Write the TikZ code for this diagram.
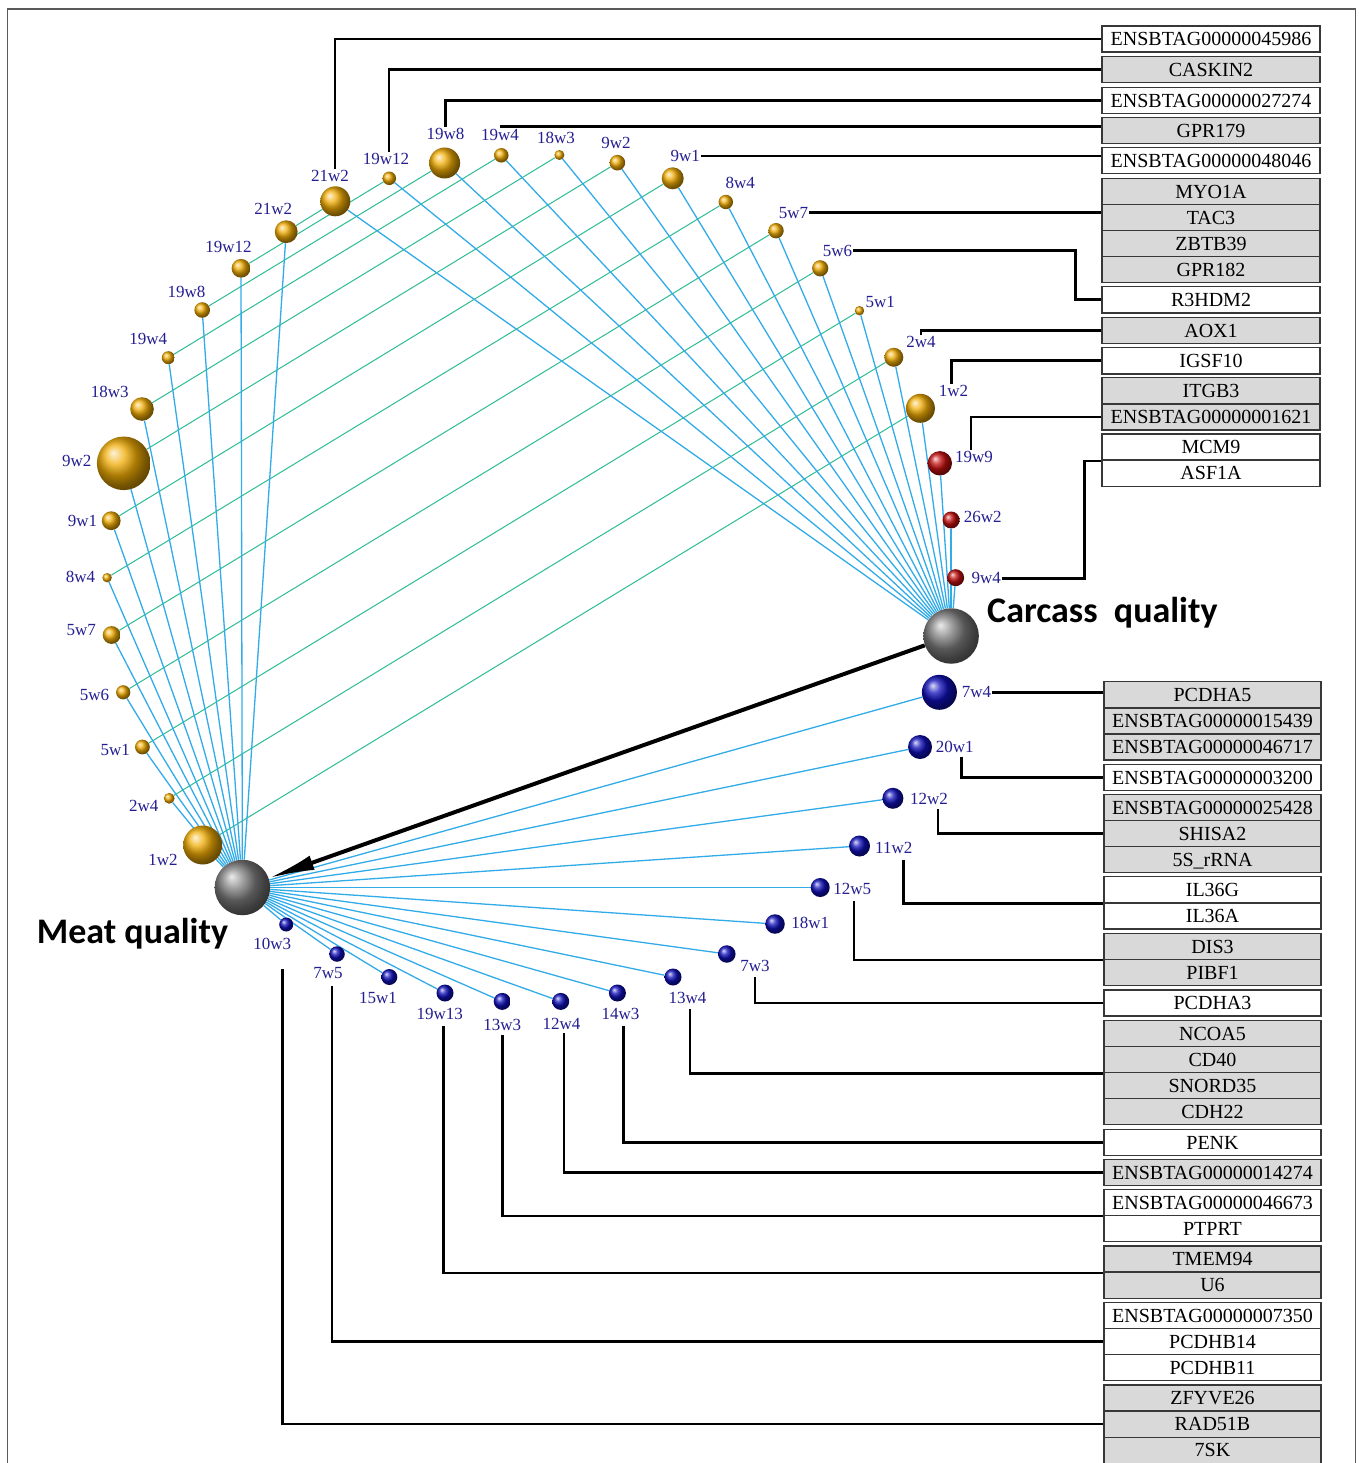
\documentclass[tikz,border=0pt]{standalone}
\usepackage{fontspec}
\setmainfont{Liberation Serif}
\newfontfamily\titlefont{Carlito}
\usetikzlibrary{arrows.meta,calc,backgrounds}
\definecolor{cgold}{RGB}{240,172,5}
\definecolor{cred}{RGB}{195,15,15}
\definecolor{cblue}{RGB}{15,15,185}
\definecolor{cgray}{RGB}{125,125,125}
\definecolor{linb}{RGB}{50,172,232}
\definecolor{ling}{RGB}{45,188,150}
\definecolor{labc}{RGB}{35,30,145}
\definecolor{boxg}{RGB}{217,217,217}
\definecolor{boxd}{RGB}{55,55,55}
\definecolor{framec}{RGB}{90,90,90}
\begin{document}
\begin{tikzpicture}[x=1pt,y=-1pt,
  sph/.style={circle, inner sep=0pt, shading=ball, minimum size=#1},
  sphG/.style={sph=#1, ball color=cgold},
  sphR/.style={sph=#1, ball color=cred},
  sphB/.style={sph=#1, ball color=cblue},
  sphK/.style={sph=#1, ball color=cgray},
  nlab/.style={text=labc, inner sep=1pt, font=\fontsize{17}{17}\selectfont},
  conn/.style={draw=black, line width=2.6pt},
  blueln/.style={draw=linb, line width=1.3pt},
  greenln/.style={draw=ling, line width=1pt},
  gbox/.style={draw=boxd, line width=1.4pt, minimum height=26.1pt, inner sep=0pt,
     text height=13.4pt, text depth=0pt, font=\fontsize{20}{20}\selectfont},
  boxTG/.style={gbox, minimum width=218pt, fill=boxg},
  boxTW/.style={gbox, minimum width=218pt, fill=white},
  boxLG/.style={gbox, minimum width=217pt, fill=boxg},
  boxLW/.style={gbox, minimum width=217pt, fill=white},
  ttl/.style={anchor=base west, inner sep=0pt, font=\titlefont\bfseries\fontsize{36}{36}\selectfont}
]
\useasboundingbox (0,0) rectangle (1358,1463);
\draw[framec, line width=1.5pt] (7.5,1475) -- (7.5,9) -- (1355.5,9) -- (1355.5,1475);

% ---------- main spheres ----------
\node[sphK=55.5] (MQ) at (242.4,887.5) {};
\node[sphK=55.5] (CQ) at (951.1,636) {};

% top arc (carcass)
\node[sphG=30]   (T21w2) at (335.3,201.3) {};
\node[sphG=13.5] (T19w12) at (389.3,178.3) {};
\node[sphG=31]   (T19w8) at (444.6,163) {};
\node[sphG=14.5] (T19w4) at (501.3,155.3) {};
\node[sphG=10]   (T18w3) at (559.4,155) {};
\node[sphG=15.6] (T9w2) at (617.4,162.7) {};
\node[sphG=22]   (T9w1) at (672.7,178.3) {};
\node[sphG=14.4] (T8w4) at (725.8,202) {};
\node[sphG=15.4] (T5w7) at (776,230.7) {};
\node[sphG=16.2] (T5w6) at (820.2,268.3) {};
\node[sphG=9.4]  (T5w1) at (859.5,310.7) {};
\node[sphG=19]   (T2w4) at (893.8,357.3) {};
\node[sphG=29]   (T1w2) at (920.4,408.3) {};
\node[sphR=24.4] (R19w9) at (939.8,463.3) {};
\node[sphR=17]   (R26w2) at (951.1,520) {};
\node[sphR=17]   (R9w4) at (955.6,577.7) {};

% blue arc (meat)
\node[sphB=35]   (B7w4) at (939.4,692.3) {};
\node[sphB=24]   (B20w1) at (920,747) {};
\node[sphB=21]   (B12w2) at (892.9,798.3) {};
\node[sphB=21]   (B11w2) at (859.5,846) {};
\node[sphB=19]   (B12w5) at (820.2,887.5) {};
\node[sphB=19.5] (B18w1) at (775,924) {};
\node[sphB=17.5] (B7w3) at (726.8,954) {};
\node[sphB=17]   (B13w4) at (673,977) {};
\node[sphB=17]   (B14w3) at (617.4,993) {};
\node[sphB=17]   (B12w4) at (560.7,1001.4) {};
\node[sphB=17]   (B13w3) at (502.2,1001.4) {};
\node[sphB=17]   (B19w13) at (445,993) {};
\node[sphB=16]   (B15w1) at (389.3,977) {};
\node[sphB=15.5] (B7w5) at (337,954) {};
\node[sphB=14]   (B10w3) at (286.2,924.5) {};

% left arc (meat)
\node[sphG=39]   (L1w2) at (202.7,845) {};
\node[sphG=10.8] (L2w4) at (169.2,798.3) {};
\node[sphG=14.8] (L5w1) at (142.4,747) {};
\node[sphG=14.2] (L5w6) at (123.2,692.3) {};
\node[sphG=17.8] (L5w7) at (111.6,635) {};
\node[sphG=9.4]  (L8w4) at (107.1,577.7) {};
\node[sphG=18.8] (L9w1) at (111.2,520.7) {};
\node[sphG=53.6] (L9w2) at (123.7,463.3) {};
\node[sphG=23.6] (L18w3) at (142,409) {};
\node[sphG=13]   (L19w4) at (168.3,357.7) {};
\node[sphG=15.6] (L19w8) at (202.2,310) {};
\node[sphG=18.8] (L19w12) at (241,268.3) {};
\node[sphG=22.8] (L21w2) at (286.2,231.7) {};

% ---------- lines (background) ----------
\begin{pgfonlayer}{background}
\fill[white] (0,0) rectangle (1358,1463);
\foreach \n in {21w2,19w12,19w8,19w4,18w3,9w2,9w1,8w4,5w7,5w6,5w1,2w4,1w2}{
  \draw[greenln] (L\n) -- (T\n);
}
\foreach \n in {21w2,19w12,19w8,19w4,18w3,9w2,9w1,8w4,5w7,5w6,5w1,2w4,1w2}{
  \draw[blueln] (MQ) -- (L\n);
  \draw[blueln] (CQ) -- (T\n);
}
\foreach \n in {19w9,26w2,9w4}{ \draw[blueln] (CQ) -- (R\n); }
\foreach \n in {7w4,20w1,12w2,11w2,12w5,18w1,7w3,13w4,14w3,12w4,13w3,19w13,15w1,7w5,10w3}{
  \draw[blueln] (MQ) -- (B\n);
}
\end{pgfonlayer}

% arrow
\draw[line width=4pt, -{Latex[length=46pt,width=15pt]}] (CQ) -- (MQ);

% ---------- titles ----------
\node[ttl] (tCQ) at (987,622.7) {Carcass\ \ quality};
\node[ttl] (tMQ) at (36.6,943.3) {Meat quality};

% ---------- sphere labels ----------
\node[nlab] (lT21w2) at (330,175.7) {21w2};
\node[nlab] (lT19w12) at (386,159) {19w12};
\node[nlab] (lT19w8) at (445.5,134) {19w8};
\node[nlab] (lT19w4) at (500,135) {19w4};
\node[nlab] (lT18w3) at (556,138.3) {18w3};
\node[nlab] (lT9w2) at (616,142.7) {9w2};
\node[nlab] (lT9w1) at (685.2,156) {9w1};
\node[nlab] (lT8w4) at (740.3,183.3) {8w4};
\node[nlab] (lT5w7) at (793.6,212.7) {5w7};
\node[nlab] (lT5w6) at (837.4,250.7) {5w6};
\node[nlab] (lT5w1) at (880.2,301.7) {5w1};
\node[nlab] (lT2w4) at (921,342.3) {2w4};
\node[nlab] (lT1w2) at (953.4,390.7) {1w2};
\node[nlab] (lR19w9) at (974,456.7) {19w9};
\node[nlab] (lR26w2) at (982.7,516.7) {26w2};
\node[nlab] (lR9w4) at (986.3,578.3) {9w4};
\node[nlab] (lB7w4) at (976.4,692.3) {7w4};
\node[nlab] (lB20w1) at (954.7,746.7) {20w1};
\node[nlab] (lB12w2) at (929,799.3) {12w2};
\node[nlab] (lB11w2) at (893.8,847.7) {11w2};
\node[nlab] (lB12w5) at (852.3,889.3) {12w5};
\node[nlab] (lB18w1) at (810.3,923.3) {18w1};
\node[nlab] (lB7w3) at (754.9,966) {7w3};
\node[nlab] (lB13w4) at (687.5,998.2) {13w4};
\node[nlab] (lB14w3) at (620.5,1013.7) {14w3};
\node[nlab] (lB12w4) at (561.6,1023.5) {12w4};
\node[nlab] (lB13w3) at (502.2,1025.3) {13w3};
\node[nlab] (lB19w13) at (439.7,1013.7) {19w13};
\node[nlab] (lB15w1) at (378.1,997.5) {15w1};
\node[nlab] (lB7w5) at (328.1,973.3) {7w5};
\node[nlab] (lB10w3) at (272.3,944.4) {10w3};
\node[nlab] (lL1w2) at (163,860) {1w2};
\node[nlab] (lL2w4) at (143.8,805.7) {2w4};
\node[nlab] (lL5w1) at (115.2,750.3) {5w1};
\node[nlab] (lL5w6) at (94.6,695) {5w6};
\node[nlab] (lL5w7) at (81.3,630) {5w7};
\node[nlab] (lL8w4) at (80.4,577.3) {8w4};
\node[nlab] (lL9w1) at (82.6,520.7) {9w1};
\node[nlab] (lL9w2) at (76.8,460.7) {9w2};
\node[nlab] (lL18w3) at (109.8,392.3) {18w3};
\node[nlab] (lL19w4) at (148.2,339) {19w4};
\node[nlab] (lL19w8) at (186.6,292.3) {19w8};
\node[nlab] (lL19w12) at (228.6,247.3) {19w12};
\node[nlab] (lL21w2) at (273.2,209) {21w2};

% ---------- gene boxes (top group) ----------
\node[boxTW] (g45986) at (1211,39.05) {ENSBTAG00000045986};
\node[boxTG] (gCASKIN2) at (1211,69.75) {CASKIN2};
\node[boxTW] (g27274) at (1211,100.35) {ENSBTAG00000027274};
\node[boxTG] (gGPR179) at (1211,130.35) {GPR179};
\node[boxTW] (g48046) at (1211,160.75) {ENSBTAG00000048046};
\node[boxTG] (gMYO1A) at (1211,191.35) {MYO1A};
\node[boxTG] (gTAC3) at (1211,217.45) {TAC3};
\node[boxTG] (gZBTB39) at (1211,243.55) {ZBTB39};
\node[boxTG] (gGPR182) at (1211,269.65) {GPR182};
\node[boxTW] (gR3HDM2) at (1211,299.75) {R3HDM2};
\node[boxTG] (gAOX1) at (1211,330.35) {AOX1};
\node[boxTW] (gIGSF10) at (1211,360.75) {IGSF10};
\node[boxTG] (gITGB3) at (1211,390.75) {ITGB3};
\node[boxTG] (g1621) at (1211,416.85) {ENSBTAG00000001621};
\node[boxTW] (gMCM9) at (1211,447.05) {MCM9};
\node[boxTW] (gASF1A) at (1211,473.15) {ASF1A};

% ---------- gene boxes (lower group) ----------
\node[boxLG] (gPCDHA5) at (1212.5,694.75) {PCDHA5};
\node[boxLG] (g15439) at (1212.5,720.85) {ENSBTAG00000015439};
\node[boxLG] (g46717) at (1212.5,746.95) {ENSBTAG00000046717};
\node[boxLW] (g3200) at (1212.5,777.35) {ENSBTAG00000003200};
\node[boxLG] (g25428) at (1212.5,807.35) {ENSBTAG00000025428};
\node[boxLG] (gSHISA2) at (1212.5,833.45) {SHISA2};
\node[boxLG] (g5S) at (1212.5,859.55) {5S\_rRNA};
\node[boxLW] (gIL36G) at (1212.5,889.75) {IL36G};
\node[boxLW] (gIL36A) at (1212.5,915.85) {IL36A};
\node[boxLG] (gDIS3) at (1212.5,946.35) {DIS3};
\node[boxLG] (gPIBF1) at (1212.5,972.45) {PIBF1};
\node[boxLW] (gPCDHA3) at (1212.5,1003.05) {PCDHA3};
\node[boxLG] (gNCOA5) at (1212.5,1033.35) {NCOA5};
\node[boxLG] (gCD40) at (1212.5,1059.45) {CD40};
\node[boxLG] (gSNORD35) at (1212.5,1085.55) {SNORD35};
\node[boxLG] (gCDH22) at (1212.5,1111.65) {CDH22};
\node[boxLW] (gPENK) at (1212.5,1142.35) {PENK};
\node[boxLG] (g14274) at (1212.5,1172.35) {ENSBTAG00000014274};
\node[boxLW] (g46673) at (1212.5,1202.35) {ENSBTAG00000046673};
\node[boxLW] (gPTPRT) at (1212.5,1228.45) {PTPRT};
\node[boxLG] (gTMEM94) at (1212.5,1259.05) {TMEM94};
\node[boxLG] (gU6) at (1212.5,1285.15) {U6};
\node[boxLW] (g7350) at (1212.5,1315.35) {ENSBTAG00000007350};
\node[boxLW] (gPCDHB14) at (1212.5,1341.45) {PCDHB14};
\node[boxLW] (gPCDHB11) at (1212.5,1367.55) {PCDHB11};
\node[boxLG] (gZFYVE26) at (1212.5,1398.05) {ZFYVE26};
\node[boxLG] (gRAD51B) at (1212.5,1424.15) {RAD51B};
\node[boxLG] (g7SK) at (1212.5,1450.25) {7SK};

% ---------- connectors to gene boxes ----------
\draw[conn] ([xshift=5pt]lT21w2.north) |- (g45986.west);
\draw[conn] ([xshift=3pt]lT19w12.north) |- (gCASKIN2.west);
\draw[conn] (lT19w8.north) |- (g27274.west);
\draw[conn] ([xshift=1pt]lT19w4.north) |- ([yshift=4pt]gGPR179.west);
\draw[conn] (lT9w1.east) -- (lT9w1.east -| g48046.west);
\draw[conn] (lT5w7.east) -- (lT5w7.east -| gTAC3.west);
\draw[conn] (lT5w6.east) -| ([xshift=-26pt]gR3HDM2.west) -- (gR3HDM2.west);
\draw[conn] (lT2w4.north) |- (gAOX1.west);
\draw[conn] ([xshift=-2pt]lT1w2.north) |- (gIGSF10.west);
\draw[conn] ([xshift=-3pt]lR19w9.north) |- (g1621.west);
\draw[conn] (lR9w4.east) -| ([xshift=-17pt,yshift=-1.5pt]gASF1A.north west) -- ([yshift=-1.5pt]gASF1A.north west);

\draw[conn] (lB7w4.east) -- (lB7w4.east -| gPCDHA5.west);
\draw[conn] ([xshift=7pt,yshift=-3pt]lB20w1.south) |- (g3200.west);
\draw[conn] ([xshift=9pt,yshift=-3pt]lB12w2.south) |- (gSHISA2.west);
\draw[conn] ([xshift=9.5pt,yshift=-5pt]lB11w2.south) |- (gIL36G.south west);
\draw[conn] ([xshift=1.5pt,yshift=-5pt]lB12w5.south) |- (gDIS3.south west);
\draw[conn] ([yshift=-4pt]lB7w3.south) |- (gPCDHA3.west);
\draw[conn] ([xshift=2.5pt,yshift=-4pt]lB13w4.south) |- (gCD40.south west);
\draw[conn] ([xshift=3pt,yshift=-5pt]lB14w3.south) |- (gPENK.west);
\draw[conn] ([xshift=2.5pt,yshift=-3pt]lB12w4.south) |- (g14274.west);
\draw[conn] ([yshift=-3pt]lB13w3.south) |- (g46673.south west);
\draw[conn] ([xshift=4pt,yshift=-5pt]lB19w13.south) |- (gTMEM94.south west);
\draw[conn] ([xshift=4pt,yshift=-6pt]lB7w5.south) |- (gPCDHB14.west);
\draw[conn] ([xshift=10pt,yshift=-18pt]lB10w3.south) |- (gRAD51B.west);
\end{tikzpicture}
\end{document}
